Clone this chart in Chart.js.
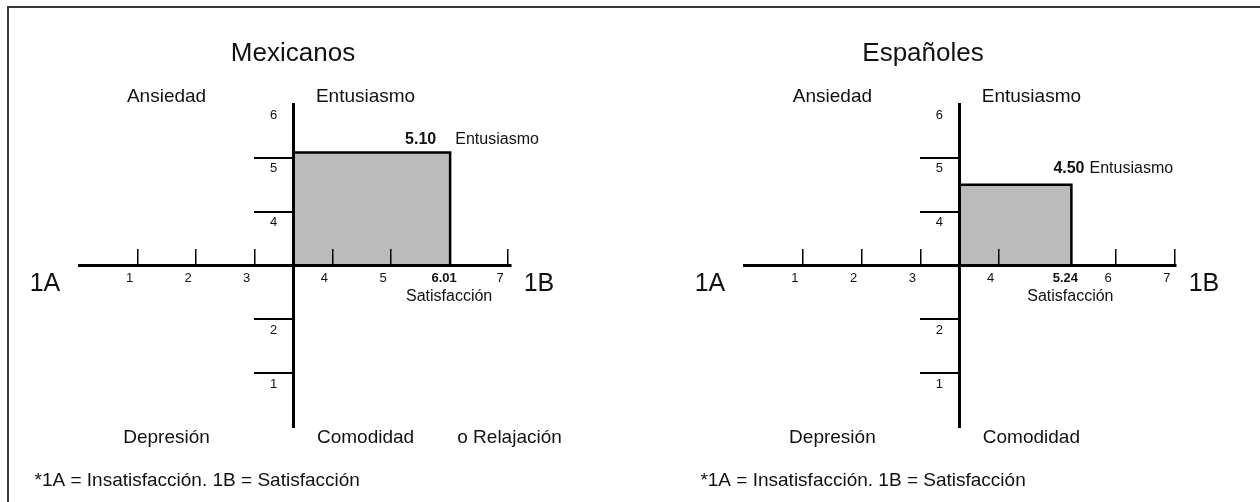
<!DOCTYPE html>
<html lang="es">
  <head>
    <meta charset="UTF-8" />
    <title>Mexicanos / Españoles</title>
    <script src="https://cdn.jsdelivr.net/npm/chart.js"></script>
    <style>
      body { margin: 0; background: #fff; }
      #frame {
        position: absolute; left: 7px; top: 6px; width: 1300px; height: 540px;
        border-left: 2px solid #3a3a3a; border-top: 2px solid #3a3a3a;
      }
      canvas { position: absolute; top: 0; }
      #mex { left: 0; }
      #esp { left: 630px; }
    </style>
  </head>
  <body>
    <div id="frame"></div>
    <canvas id="mex" width="630" height="502"></canvas>
    <canvas id="esp" width="630" height="502"></canvas>
    <script>
      // values
      const panelTitles = ["Mexicanos", "Españoles"];
      const satisfaccion = [6.01, 5.24];
      const entusiasmo = [5.1, 4.5];
      const xTickValues = [1, 2, 3, 4, 5, 6, 7];
      const yTickMarks = [1, 2, 4, 5];
      const yTickLabels = [1, 2, 4, 5, 6];
      const topLabels = ["Ansiedad", "Entusiasmo"];
      const bottomLabels = ["Depresión", "Comodidad"];
      const bottomExtra = ["o Relajación", ""];
      const axisEnds = ["1A", "1B"];
      const footnote = "*1A = Insatisfacción. 1B = Satisfacción";
      const xCross = 3.5;
      const yCross = 3;

      // the horizontal axis leaves extra room between 3 and 4 where the axes cross
      const GAP = 0.33;
      function toPos(v) {
        if (v <= 3) return v;
        if (v >= 4) return v + GAP;
        return 3 + (v - 3) * (1 + GAP);
      }
      function fromPos(p) {
        if (p <= 3) return p;
        if (p >= 4 + GAP) return p - GAP;
        return 3 + (p - 3) / (1 + GAP);
      }

      class GapScale extends Chart.LinearScale {
        getPixelForValue(v) {
          const a = toPos(this.min), b = toPos(this.max);
          return this.getPixelForDecimal((toPos(v) - a) / (b - a));
        }
        getValueForPixel(px) {
          const a = toPos(this.min), b = toPos(this.max);
          return fromPos(a + this.getDecimalForPixel(px) * (b - a));
        }
      }
      GapScale.id = "gap";
      GapScale.defaults = {};
      Chart.register(GapScale);

      const FONT = '"Liberation Sans", Arial, sans-serif';
      const INK = "#111";

      function text(ctx, str, x, y, size, align, bold) {
        ctx.font = (bold ? "bold " : "") + size + "px " + FONT;
        ctx.textAlign = align || "center";
        ctx.textBaseline = "middle";
        ctx.fillStyle = INK;
        ctx.fillText(str, x, y);
        return ctx.measureText(str).width;
      }

      const quadText = {
        id: "quadText",
        afterDraw(chart, args, opts) {
          const i = opts.panel;
          const { ctx, chartArea: area } = chart;
          const x = chart.scales.x, y = chart.scales.y;
          const cx = x.getPixelForValue(xCross);
          const cy = y.getPixelForValue(yCross);
          const bx = x.getPixelForValue(satisfaccion[i]);
          const by = y.getPixelForValue(entusiasmo[i]);
          const skip = Math.round(satisfaccion[i]);

          ctx.save();
          text(ctx, panelTitles[i], 293, 54, 26);
          text(ctx, topLabels[0], cx - 127, 97, 19);
          text(ctx, topLabels[1], cx + 72, 97, 19);
          text(ctx, bottomLabels[0], cx - 127, 438, 19);
          text(ctx, bottomLabels[1], cx + 72, 438, 19);
          if (bottomExtra[i]) text(ctx, bottomExtra[i], cx + 216, 438, 19);
          text(ctx, axisEnds[0], area.left - 34, 284, 25);
          text(ctx, axisEnds[1], area.right + 28, 284, 25);

          xTickValues.filter(v => v !== skip).forEach(v => {
            text(ctx, String(v), x.getPixelForValue(v) - 8, cy + 13, 13);
          });
          text(ctx, satisfaccion[i].toFixed(2), bx - 6, cy + 13, 13, "center", true);
          text(ctx, "Satisfacción", bx - 1, cy + 31, 16);

          yTickLabels.forEach(v => {
            text(ctx, String(v), cx - 20, y.getPixelForValue(v) + 11, 13);
          });

          const vx = bx + opts.valueDx, vy = by + opts.valueDy;
          const w = text(ctx, entusiasmo[i].toFixed(2), vx, vy, 16, "left", true);
          text(ctx, "Entusiasmo", vx + w + opts.nameGap, vy, 16, "left");

          text(ctx, footnote, cx - 259, 481, 19, "left");
          ctx.restore();
        }
      };

      function drawPanel(canvasId, i, pad, xMax, note) {
        const skip = Math.round(satisfaccion[i]);
        const xMarks = xTickValues.filter(v => v !== skip);
        new Chart(document.getElementById(canvasId), {
          type: "line",
          data: {
            datasets: [
              {
                data: [
                  { x: xCross, y: entusiasmo[i] },
                  { x: satisfaccion[i], y: entusiasmo[i] },
                  { x: satisfaccion[i], y: yCross },
                ],
                fill: { value: yCross },
                backgroundColor: "#bbbbbb",
                borderColor: "#000",
                borderWidth: 2.5,
                pointRadius: 0,
                tension: 0,
              },
            ],
          },
          options: {
            responsive: false,
            animation: false,
            layout: { padding: pad },
            plugins: {
              legend: { display: false },
              tooltip: { enabled: false },
              quadText: Object.assign({ panel: i }, note),
            },
            scales: {
              x: {
                type: "gap",
                min: 0,
                max: xMax,
                position: { y: yCross },
                afterBuildTicks: s => { s.ticks = xMarks.map(v => ({ value: v })); },
                afterFit: s => { s.height = 0; },
                ticks: { display: false },
                border: { display: true, color: "#000", width: 3, z: 1 },
                grid: { drawOnChartArea: false, drawTicks: true, tickLength: -18, lineWidth: 1.5, color: "#000", z: 1 },
              },
              y: {
                type: "linear",
                min: 0,
                max: 6,
                position: { x: xCross },
                afterBuildTicks: s => { s.ticks = yTickMarks.map(v => ({ value: v })); },
                afterFit: s => { s.width = 0; },
                ticks: { display: false },
                border: { display: true, color: "#000", width: 3, z: 1 },
                grid: { drawOnChartArea: false, drawTicks: true, tickLength: 38, lineWidth: 2, color: "#000", z: 1 },
              },
            },
          },
          plugins: [quadText],
        });
      }

      drawPanel("mex", 0, { left: 79, right: 119, top: 104, bottom: 75 }, 7.05,
        { valueDx: -45, valueDy: -13, nameGap: 19 });
      drawPanel("esp", 1, { left: 114, right: 84, top: 104, bottom: 75 }, 7.02,
        { valueDx: -18, valueDy: -16, nameGap: 5 });
    </script>
  </body>
</html>
